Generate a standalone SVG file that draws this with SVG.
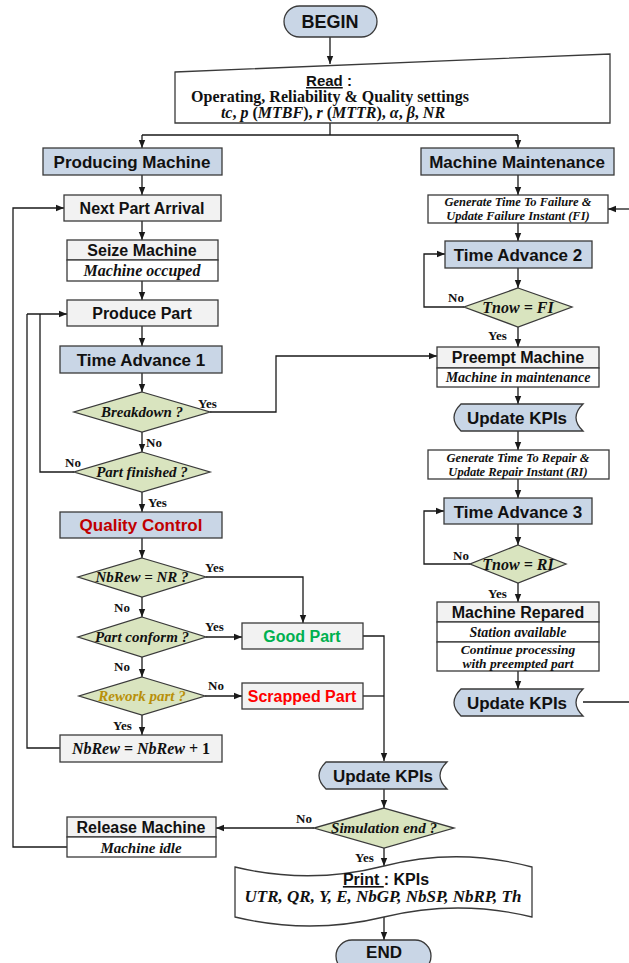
<svg xmlns="http://www.w3.org/2000/svg" width="629" height="963" viewBox="0 0 629 963">
<defs>
<marker id="ah" viewBox="0 0 8 8" refX="8" refY="4" markerWidth="8" markerHeight="8" markerUnits="userSpaceOnUse" orient="auto"><path d="M0,0.8 L8,4 L0,7.2 Z" fill="#1a1a1a"/></marker>
<style>
.b{stroke:#3a3a3a;stroke-width:1.3}
.blue{fill:#c9d6e6}
.gray{fill:#f2f2f2}
.wh{fill:#ffffff}
.dia{fill:#d9e4bf}
.c{fill:none;stroke:#1a1a1a;stroke-width:1.3}
.a{marker-end:url(#ah)}
.s{font-family:"Liberation Sans",Arial,sans-serif;font-weight:bold;text-anchor:middle;fill:#111}
.s17{font-size:17px}
.s16{font-size:16px}
.it{font-family:"Liberation Serif","Times New Roman",serif;font-style:italic;font-weight:bold;text-anchor:middle;fill:#111}
.i14{font-size:14px}
.i15{font-size:15px}
.i12{font-size:12.5px}
.rd{font-family:"Liberation Serif","Times New Roman",serif;font-weight:bold;font-size:16px;text-anchor:middle;fill:#111}
.lb{font-family:"Liberation Serif","Times New Roman",serif;font-weight:bold;font-size:13px;fill:#111}
</style>
</defs>

<g id="connectors">
<path class="c a" d="M330,37 V64"/>
<path class="c" d="M330,123 V135 M142,135 H518"/>
<path class="c a" d="M142,135 V148"/>
<path class="c a" d="M518,135 V148"/>
<path class="c a" d="M142,175 V195"/>
<path class="c a" d="M142,221 V240"/>
<path class="c a" d="M142,281 V300"/>
<path class="c a" d="M142,326 V346"/>
<path class="c a" d="M142,373 V392"/>
<path class="c a" d="M210,412 H276 V356 H437"/>
<path class="c a" d="M142,432 V452"/>
<path class="c" d="M74,472 H40 V314"/>
<path class="c a" d="M27,314 H67"/>
<path class="c a" d="M142,492 V512"/>
<path class="c a" d="M142,538 V558"/>
<path class="c a" d="M206,577 H303 V623"/>
<path class="c a" d="M142,597 V617"/>
<path class="c a" d="M206,637 H242"/>
<path class="c a" d="M142,657 V677"/>
<path class="c a" d="M205,696 H242"/>
<path class="c a" d="M142,715 V735"/>
<path class="c" d="M60,748 H27 V314"/>
<path class="c" d="M363,696 H384"/>
<path class="c a" d="M363,636 H384 V761"/>
<path class="c a" d="M384,789 V808"/>
<path class="c a" d="M314,828 H216"/>
<path class="c a" d="M67,847 H13 V208 H64"/>
<path class="c a" d="M384,848 V866"/>
<path class="c a" d="M384,916 V940"/>
<path class="c a" d="M518,175 V195"/>
<path class="c a" d="M629,209 H608"/>
<path class="c a" d="M518,223 V241"/>
<path class="c a" d="M518,268 V288"/>
<path class="c a" d="M464,307 H424 V254 H445"/>
<path class="c a" d="M518,327 V347"/>
<path class="c a" d="M518,387 V404"/>
<path class="c a" d="M518,431 V450"/>
<path class="c a" d="M518,479 V498"/>
<path class="c a" d="M518,524 V545"/>
<path class="c a" d="M470,564 H424 V511 H444"/>
<path class="c a" d="M518,583 V602"/>
<path class="c a" d="M518,671 V689"/>
<path class="c" d="M583,702 H629"/>
<text class="lb" x="198" y="408">Yes</text>
<text class="lb" x="146" y="447">No</text>
<text class="lb" x="65" y="467">No</text>
<text class="lb" x="148" y="507">Yes</text>
<text class="lb" x="205" y="572">Yes</text>
<text class="lb" x="114" y="612">No</text>
<text class="lb" x="205" y="631">Yes</text>
<text class="lb" x="114" y="671">No</text>
<text class="lb" x="208" y="690">No</text>
<text class="lb" x="113" y="730">Yes</text>
<text class="lb" x="296" y="823">No</text>
<text class="lb" x="355" y="862">Yes</text>
<text class="lb" x="448" y="302">No</text>
<text class="lb" x="488" y="340">Yes</text>
<text class="lb" x="453" y="560">No</text>
<text class="lb" x="488" y="598">Yes</text>
</g>

<g id="begin">
<rect class="b blue" x="284" y="6" width="93" height="31" rx="15.5"/>
<text class="s" x="330" y="28" font-size="18">BEGIN</text>
</g>

<g id="read">
<polygon class="b wh" points="175,72 610,54 610,123 175,123"/>
<text class="s" x="329" y="86" font-size="15"><tspan text-decoration="underline">Read</tspan> :</text>
<text class="rd" x="330" y="102">Operating, Reliability &amp; Quality settings</text>
<text class="rd" x="333" y="118"><tspan font-style="italic">tc</tspan>, <tspan font-style="italic">p</tspan> (<tspan font-style="italic">MTBF</tspan>), <tspan font-style="italic">r</tspan> (<tspan font-style="italic">MTTR</tspan>), <tspan font-style="italic">α</tspan>, <tspan font-style="italic">β</tspan>, <tspan font-style="italic">NR</tspan></text>
</g>

<g id="producing-machine">
<rect class="b blue" x="43" y="148" width="179" height="27"/>
<text class="s s17" x="132" y="168">Producing Machine</text>
</g>

<g id="machine-maintenance">
<rect class="b blue" x="421" y="148" width="193" height="27"/>
<text class="s s17" x="517" y="168">Machine Maintenance</text>
</g>

<g id="next-part-arrival">
<rect class="b gray" x="64" y="195" width="157" height="26"/>
<text class="s s16" x="142" y="214">Next Part Arrival</text>
</g>

<g id="seize-machine">
<rect class="b gray" x="67" y="240" width="151" height="20"/>
<rect class="b wh" x="67" y="260" width="151" height="21"/>
<text class="s s16" x="142" y="256">Seize Machine</text>
<text class="it" x="142" y="276" font-size="16">Machine occuped</text>
</g>

<g id="produce-part">
<rect class="b gray" x="67" y="300" width="151" height="26"/>
<text class="s s16" x="142" y="319">Produce Part</text>
</g>

<g id="time-advance-1">
<rect class="b blue" x="60" y="346" width="162" height="27"/>
<text class="s s17" x="141" y="366">Time Advance 1</text>
</g>

<g id="breakdown">
<polygon class="b dia" points="142,392 210,412 142,432 74,412"/>
<text class="it i15" x="142" y="417">Breakdown ?</text>
</g>

<g id="part-finished">
<polygon class="b dia" points="142,452 210,472 142,492 74,472"/>
<text class="it i15" x="142" y="477">Part finished ?</text>
</g>

<g id="quality-control">
<rect class="b blue" x="60" y="512" width="162" height="26"/>
<text class="s s17" x="141" y="531" style="fill:#c00000">Quality Control</text>
</g>

<g id="nbrew-nr">
<polygon class="b dia" points="142,558 206,577 142,597 78,577"/>
<text class="it i15" x="142" y="582">NbRew = NR ?</text>
</g>

<g id="part-conform">
<polygon class="b dia" points="142,617 206,637 142,657 78,637"/>
<text class="it i15" x="142" y="642">Part conform ?</text>
</g>

<g id="rework-part">
<polygon class="b dia" points="142,677 205,696 142,715 79,696"/>
<text class="it i15" x="142" y="701" style="fill:#b8900a">Rework part ?</text>
</g>

<g id="good-part">
<rect class="b gray" x="242" y="623" width="121" height="26"/>
<text class="s s16" x="302" y="642" style="fill:#00b050">Good Part</text>
</g>

<g id="scrapped-part">
<rect class="b gray" x="242" y="683" width="121" height="26"/>
<text class="s s16" x="302" y="702" style="fill:#ff0000">Scrapped Part</text>
</g>

<g id="nbrew-increment">
<rect class="b gray" x="60" y="735" width="162" height="27"/>
<text class="it" x="141" y="754" font-size="16">NbRew <tspan font-style="normal">=</tspan> NbRew <tspan font-style="normal">+ 1</tspan></text>
</g>

<g id="update-kpis-3">
<path class="b blue" d="M326,762 H447 Q433,775.5 447,789 H326 Q312,775.5 326,762 Z"/>
<text class="s s17" x="383" y="782">Update KPIs</text>
</g>

<g id="simulation-end">
<polygon class="b dia" points="384,808 454,828 384,848 314,828"/>
<text class="it i15" x="384" y="833">Simulation end ?</text>
</g>

<g id="release-machine">
<rect class="b gray" x="67" y="817" width="149" height="20"/>
<rect class="b wh" x="67" y="837" width="149" height="20"/>
<text class="s s16" x="141" y="833">Release Machine</text>
<text class="it i15" x="141" y="853">Machine idle</text>
</g>

<g id="print">
<path class="b wh" d="M235,867 Q310,885 384,866 T532,867 V917 Q458,899 384,917 Q310,935 235,917 Z"/>
<text class="s" x="386" y="885" font-size="16"><tspan text-decoration="underline">Print </tspan>: KPIs</text>
<text class="it" x="383" y="902" font-size="17">UTR, QR, Y, E, NbGP, NbSP, NbRP, Th</text>
</g>

<g id="end">
<rect class="b blue" x="336" y="940" width="95" height="32" rx="16"/>
<text class="s" x="384" y="958" font-size="17">END</text>
</g>

<g id="generate-ttf">
<rect class="b wh" x="428" y="195" width="180" height="28"/>
<text class="it i12" x="518" y="206">Generate Time To Failure &amp;</text>
<text class="it i12" x="518" y="220">Update Failure Instant (FI)</text>
</g>

<g id="time-advance-2">
<rect class="b blue" x="445" y="241" width="147" height="27"/>
<text class="s s17" x="518" y="261">Time Advance 2</text>
</g>

<g id="tnow-fi">
<polygon class="b dia" points="518,288 572,307 518,327 464,307"/>
<text class="it" x="518" y="313" font-size="16">Tnow = FI</text>
</g>

<g id="preempt-machine">
<rect class="b gray" x="437" y="347" width="162" height="21"/>
<rect class="b wh" x="437" y="368" width="162" height="19"/>
<text class="s s16" x="518" y="363">Preempt Machine</text>
<text class="it i14" x="518" y="382">Machine in maintenance</text>
</g>

<g id="update-kpis-1">
<path class="b blue" d="M461,404 H583 Q569,417.5 583,431 H461 Q447,417.5 461,404 Z"/>
<text class="s s17" x="517" y="424">Update KPIs</text>
</g>

<g id="generate-ttr">
<rect class="b wh" x="428" y="450" width="181" height="29"/>
<text class="it i12" x="518" y="462">Generate Time To Repair &amp;</text>
<text class="it i12" x="518" y="476">Update Repair Instant (RI)</text>
</g>

<g id="time-advance-3">
<rect class="b blue" x="444" y="498" width="148" height="26"/>
<text class="s s17" x="518" y="518">Time Advance 3</text>
</g>

<g id="tnow-ri">
<polygon class="b dia" points="518,545 566,564 518,583 470,564"/>
<text class="it" x="518" y="570" font-size="16">Tnow = RI</text>
</g>

<g id="machine-repared">
<rect class="b gray" x="437" y="602" width="162" height="20"/>
<rect class="b wh" x="437" y="622" width="162" height="20"/>
<rect class="b wh" x="437" y="642" width="162" height="29"/>
<text class="s s16" x="518" y="618">Machine Repared</text>
<text class="it i14" x="518" y="637">Station available</text>
<text class="it" x="518" y="654" font-size="13.5">Continue processing</text>
<text class="it" x="518" y="668" font-size="13.5">with preempted part</text>
</g>

<g id="update-kpis-2">
<path class="b blue" d="M461,689 H583 Q569,702.5 583,716 H461 Q447,702.5 461,689 Z"/>
<text class="s s17" x="517" y="709">Update KPIs</text>
</g>
</svg>
